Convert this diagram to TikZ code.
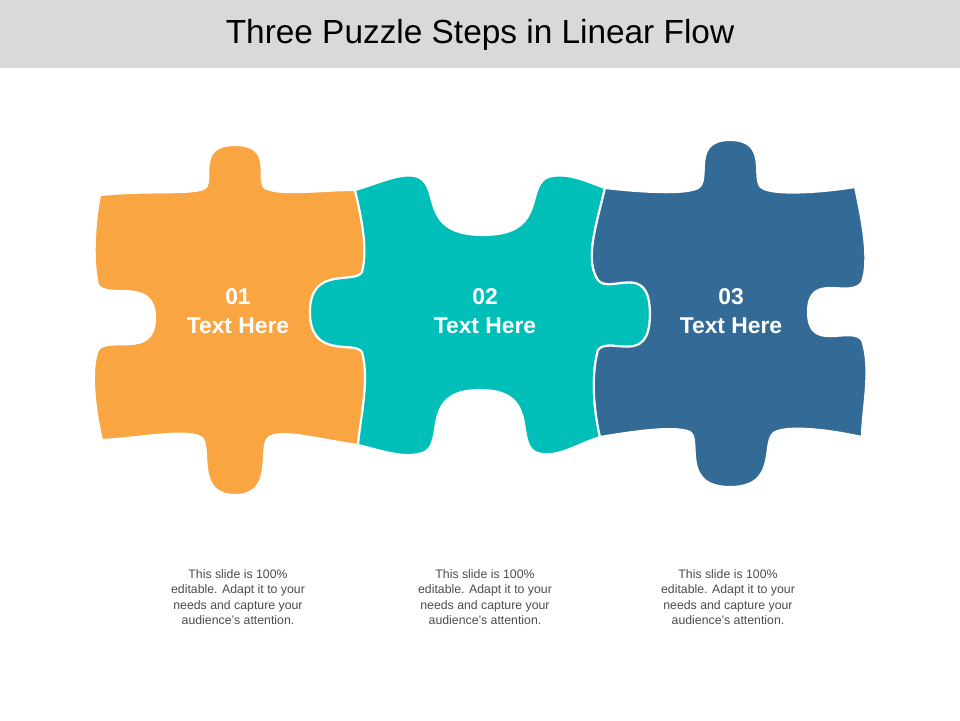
\documentclass[tikz,border=0pt]{standalone}
\usepackage{fontspec}
\setmainfont{Liberation Sans}
\definecolor{pieceorange}{HTML}{F9A541}
\definecolor{pieceteal}{HTML}{00BFB8}
\definecolor{pieceblue}{HTML}{336A96}
\definecolor{titlegray}{HTML}{D9D9D9}
\begin{document}
\begin{tikzpicture}[
        x=0.02cm, y=-0.02cm,
        piece/.style = {draw=white, line width=1.2pt, line join=round}, % Контур кусочка
        steplabel/.style = {text=white, font=\fontsize{13}{16.5}\selectfont\bfseries, align=center},
        note/.style = {text=black!70, font=\fontsize{7}{8.8}\selectfont, align=center},
    ]

    % Фон и заголовок
    \fill[white] (0,0) rectangle (960,720);
    \fill[titlegray] (0,0) rectangle (960,68);
    \node (title) at (480,35) {\fontsize{19}{22}\selectfont Three Puzzle Steps in Linear Flow};

    % Кусочек 1
    \fill[piece, fill=pieceorange] (100,195)
        .. controls (150,190) and (195,195) .. (205,188)
        .. controls (215,180) and (195,145) .. (235,145)
        .. controls (275,145) and (255,180) .. (265,188)
        .. controls (280,196) and (320,190) .. (355,190)
        .. controls (362,220) and (368,250) .. (362,272)
        .. controls (355,285) and (310,265) .. (310,312)
        .. controls (310,360) and (355,340) .. (362,352)
        .. controls (370,380) and (360,420) .. (358,445)
        .. controls (320,440) and (280,428) .. (268,438)
        .. controls (258,448) and (275,495) .. (235,495)
        .. controls (195,495) and (212,448) .. (202,438)
        .. controls (190,428) and (140,438) .. (102,440)
        .. controls (95,410) and (90,370) .. (98,350)
        .. controls (108,335) and (155,360) .. (155,318)
        .. controls (155,276) and (108,300) .. (98,285)
        .. controls (92,260) and (95,220) .. (100,195) -- cycle;

    % Кусочек 2
    \fill[piece, fill=pieceteal] (355,190)
        .. controls (380,183) and (405,170) .. (420,178)
        .. controls (440,190) and (420,235) .. (483,235)
        .. controls (546,235) and (526,190) .. (546,178)
        .. controls (565,170) and (590,183) .. (605,188)
        .. controls (595,230) and (585,260) .. (598,280)
        .. controls (610,295) and (650,260) .. (650,314)
        .. controls (650,368) and (610,335) .. (598,350)
        .. controls (590,380) and (595,415) .. (600,437)
        .. controls (575,445) and (555,460) .. (535,452)
        .. controls (515,440) and (540,390) .. (480,390)
        .. controls (420,390) and (445,440) .. (425,452)
        .. controls (405,460) and (380,450) .. (358,445)
        .. controls (360,420) and (370,380) .. (362,352)
        .. controls (355,340) and (310,360) .. (310,312)
        .. controls (310,265) and (355,285) .. (362,272)
        .. controls (368,250) and (362,220) .. (355,190) -- cycle;

    % Кусочек 3
    \fill[piece, fill=pieceblue] (605,188)
        .. controls (640,192) and (685,195) .. (698,188)
        .. controls (712,180) and (690,140) .. (730,140)
        .. controls (770,140) and (750,180) .. (762,188)
        .. controls (775,196) and (825,192) .. (855,187)
        .. controls (862,220) and (870,260) .. (862,282)
        .. controls (850,300) and (808,270) .. (808,312)
        .. controls (808,354) and (850,325) .. (862,340)
        .. controls (872,370) and (862,410) .. (862,437)
        .. controls (830,430) and (790,425) .. (775,432)
        .. controls (760,440) and (780,487) .. (730,487)
        .. controls (680,487) and (702,440) .. (690,432)
        .. controls (675,425) and (630,432) .. (600,437)
        .. controls (595,415) and (590,380) .. (598,350)
        .. controls (610,335) and (650,368) .. (650,314)
        .. controls (650,260) and (610,295) .. (598,280)
        .. controls (585,260) and (595,230) .. (605,188) -- cycle;

    % Подписи
    \node[steplabel] (label1) at (238,311) {01\\Text Here};
    \node[steplabel] (label2) at (485,311) {02\\Text Here};
    \node[steplabel] (label3) at (731,311) {03\\Text Here};

    \node[note] (note1) at (238,597) {This slide is 100\%\\editable. Adapt it to your\\needs and capture your\\audience's attention.};
    \node[note] (note2) at (485,597) {This slide is 100\%\\editable. Adapt it to your\\needs and capture your\\audience's attention.};
    \node[note] (note3) at (728,597) {This slide is 100\%\\editable. Adapt it to your\\needs and capture your\\audience's attention.};

    \useasboundingbox (0,0) rectangle (960,720);
\end{tikzpicture}
\end{document}
